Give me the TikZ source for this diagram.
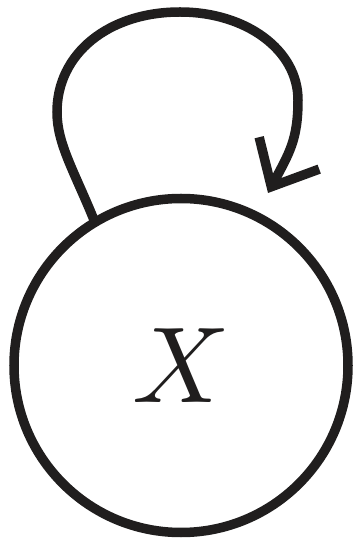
\documentclass[tikz,border=0pt]{standalone}
\usetikzlibrary{arrows.meta}
\definecolor{ink}{RGB}{32,30,30}
\begin{document}
\begin{tikzpicture}[x=1pt,y=1pt,line width=9.5pt,ink,
  >={Straight Barb[length=38pt,width=68pt,line cap=butt,line join=miter]},
  statenode/.style={draw,circle,minimum size=334pt,inner sep=0pt,outer sep=0pt}]
\useasboundingbox (0,0) rectangle (358,544);
\node[statenode] (x) at (181,178.5) {\scalebox{10.8}{$X$}};
\coordinate (left) at (57,432);
\coordinate (top) at (180,532);
\coordinate (right) at (298,444);
\coordinate (tip) at (268,351);
\draw[->] (x.121) .. controls +(112:55) and +(0,-32) .. (left)
  .. controls +(0,58) and +(-72,0) .. (top)
  .. controls +(66,0) and +(0,50) .. (right)
  .. controls +(0,-40) and +(62:45) .. (tip);
\end{tikzpicture}
\end{document}
